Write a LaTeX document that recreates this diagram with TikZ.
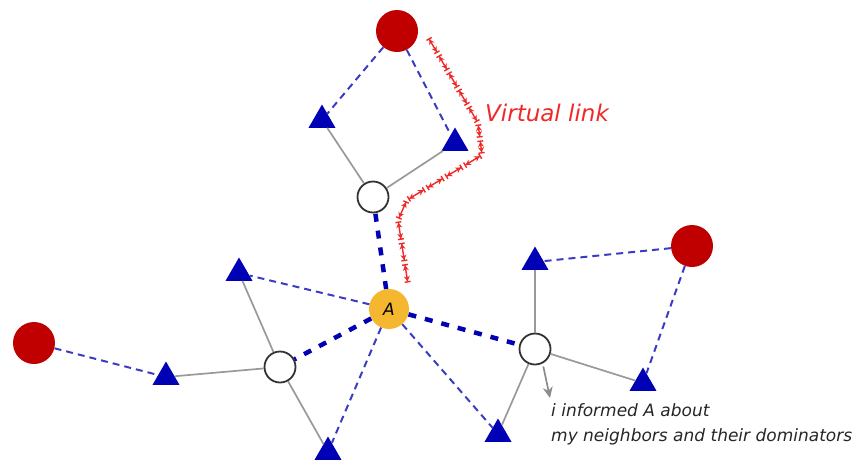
\documentclass[tikz,border=0pt]{standalone}
\usepackage{fontspec}
\setmainfont{DejaVu Sans}
\usepackage{tikz}
\usetikzlibrary{arrows.meta, calc, shapes.geometric}

\definecolor{domred}{HTML}{C00000}
\definecolor{trblue}{HTML}{0000B4}
\definecolor{dashblue}{HTML}{3B3BC4}
\definecolor{aorange}{HTML}{F4B72F}
\definecolor{linkred}{HTML}{F02828}

\begin{document}
\begin{tikzpicture}[x=1pt, y=-1pt,
    dom/.style={circle, fill=domred, minimum size=42pt, inner sep=0pt},
    wnode/.style={circle, draw=black!80, line width=1.8pt, fill=white, minimum size=31pt, inner sep=0pt},
    anode/.style={circle, fill=aorange, minimum size=40pt, inner sep=0pt, font=\itshape\fontsize{17}{17}\selectfont},
    tri/.style={regular polygon, regular polygon sides=3, fill=trblue, minimum size=31pt, inner sep=0pt},
    glink/.style={draw=black!40, line width=1.7pt},
    dlink/.style={draw=dashblue, line width=2pt, dash pattern=on 7pt off 5pt},
    blink/.style={draw=trblue, line width=4.5pt, dash pattern=on 8pt off 9pt},
    vlink/.style={draw=linkred, line width=1.4pt, shorten <=1.5pt, shorten >=1.5pt,
      {Bar[width=6pt]Stealth[length=5pt, width=6pt]}-{Stealth[length=5pt, width=6pt]Bar[width=6pt]}}]
  \useasboundingbox (0,0) rectangle (861,459);

  % dominators, white nodes and A
  \node[dom] (domTop) at (397,31) {};
  \node[dom] (domLeft) at (34,343) {};
  \node[dom] (domRight) at (692,246) {};
  \node[wnode] (wTop) at (373,197) {};
  \node[wnode] (wLeft) at (280,367) {};
  \node[wnode] (wRight) at (535,349) {};
  % triangles
  \node[tri] (tTopL) at (322,120) {};
  \node[tri] (tTopR) at (455,143) {};
  \node[tri] (tLeftUp) at (239,273) {};
  \node[tri] (tLeftLow) at (166,377) {};
  \node[tri] (tLeftDown) at (328,452) {};
  \node[tri] (tRightUp) at (535,262) {};
  \node[tri] (tRightLow) at (643,383) {};
  \node[tri] (tRightDown) at (498,434) {};

  % gray links
  \foreach \w/\t in {wTop/tTopL, wTop/tTopR, wLeft/tLeftUp, wLeft/tLeftLow, wLeft/tLeftDown,
                     wRight/tRightUp, wRight/tRightLow, wRight/tRightDown}
    \draw[glink] (\w) -- (\t);
  % thin dashed links
  \foreach \a/\b in {domTop/tTopL, domTop/tTopR, domLeft/tLeftLow, domRight/tRightUp,
                     domRight/tRightLow}
    \draw[dlink] (\a) -- (\b);

  \node[anode] (nodeA) at (389,309) {A};
  \foreach \t in {tLeftUp, tLeftDown, tRightDown}
    \draw[dlink] (nodeA) -- (\t);
  % thick dashed links to A
  \foreach \w in {wTop, wLeft, wRight}
    \draw[blink] (nodeA) -- (\w);

  % virtual link
  \coordinate (v0) at (428,37);
  \coordinate (v1) at (478,123);
  \coordinate (v2) at (482,155);
  \coordinate (v3) at (407,200);
  \coordinate (v4) at (398,220);
  \coordinate (v5) at (408,284);
  \foreach \a/\b/\n in {v0/v1/5, v1/v2/2, v2/v3/4, v3/v4/1, v4/v5/3}
    \foreach \i in {1,...,\n}
      \draw[vlink] ($(\a)!{(\i-1)/\n}!(\b)$) -- ($(\a)!{\i/\n}!(\b)$);
  \node[anchor=west, text=linkred, font=\itshape\fontsize{23}{23}\selectfont, inner sep=0pt]
    (vlabel) at (485,113) {Virtual link};

  % note from the right white node
  \coordinate (infoTip) at (550,398);
  \draw[-{Stealth[length=11pt, width=10pt]}, black!45, line width=1.7pt, shorten <=3pt]
    (wRight.-62) -- (infoTip);
  \node[anchor=north west, align=left, inner sep=0pt, text=black!85,
        font=\itshape\fontsize{17}{25}\selectfont] (info) at (551,403)
    {i informed A about\\my neighbors and their dominators};
\end{tikzpicture}
\end{document}
